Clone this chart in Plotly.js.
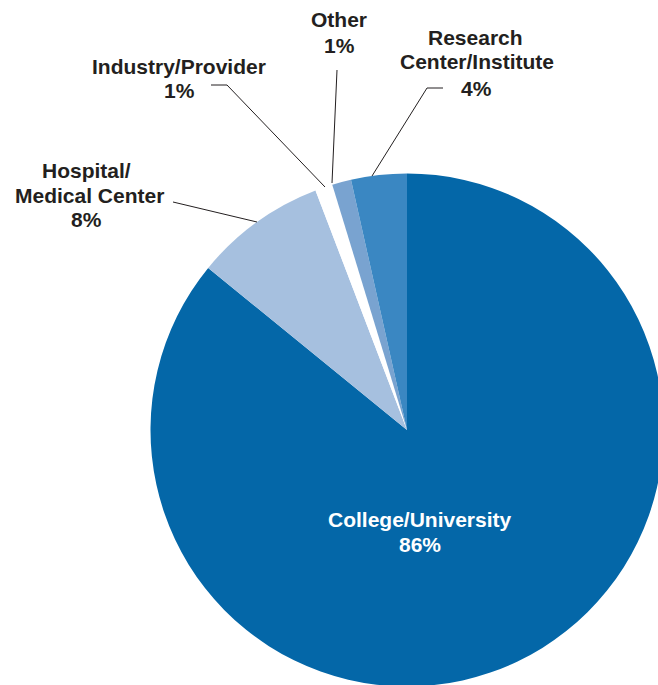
<!DOCTYPE html>
<html>
<head>
<meta charset="utf-8">
<script src="https://cdn.plot.ly/plotly-3.0.1.min.js"></script>
<style>
html,body{margin:0;padding:0;overflow:hidden;background:#fff;}
#chart{width:700px;height:720px;}
</style>
</head>
<body>
<div id="chart"></div>
<script>
// Data
const categories = ["College/University", "Hospital/Medical Center", "Industry/Provider", "Other", "Research Center/Institute"];
const shares = [85.8, 8.3, 1.1, 1.2, 3.5];
const shareLabels = ["86%", "8%", "1%", "1%", "4%"];
const sliceColors = ["#0467a8", "#a6c0df", "#ffffff", "#79a3d0", "#3a87c2"];

const W = 700, H = 720;
const px = x => x / W;
const py = y => 1 - y / H;

// pie placement (pixels): centre (407,430), radius 256.5
const cx = 407, cy = 430, R = 256.5;

const trace = {
  type: "pie",
  values: shares,
  labels: categories,
  sort: false,
  direction: "clockwise",
  rotation: 0,
  textinfo: "none",
  hoverinfo: "label+percent",
  marker: {colors: sliceColors, line: {width: 0}},
  domain: {x: [px(cx - R), px(cx + R)], y: [py(cy + R), py(cy - R)]},
  showlegend: false
};

const dark = "#231f20";
const fontBase = {family: "Liberation Sans, Arial, Helvetica, sans-serif", size: 21, color: dark, weight: "bold"};

// label lines: [text, centre x, baseline y, colour]
const labelLines = [
  ["Other", 339, 27], ["1%".replace("1%", shareLabels[3]), 339, 53],
  ["Research", 475, 45], ["Center/Institute", 477, 69], [shareLabels[4], 477, 96],
  ["Industry/Provider", 179, 74], [shareLabels[2], 179, 98],
  ["Hospital/", 86, 178], ["Medical Center", 90, 203], [shareLabels[1], 86, 227],
  ["College/University", 420, 527, "#ffffff"], [shareLabels[0], 420, 552, "#ffffff"]
];

const annotations = labelLines.map(l => ({
  text: "<b>" + l[0] + "</b>",
  x: px(l[1]), y: py(l[2] - 7.5),
  xref: "paper", yref: "paper",
  xanchor: "center", yanchor: "middle",
  showarrow: false,
  font: Object.assign({}, fontBase, {color: l[3] || dark})
}));

// leader lines (pixel paths)
const leaders = [
  [[173, 202], [257, 222]],
  [[211, 85], [227, 85], [325, 187]],
  [[337, 70], [332, 183]],
  [[443, 88], [427, 88], [372, 176]]
];
const shapes = [];
leaders.forEach(pts => {
  for (let i = 0; i < pts.length - 1; i++) {
    shapes.push({
      type: "line", xref: "paper", yref: "paper",
      x0: px(pts[i][0]), y0: py(pts[i][1]),
      x1: px(pts[i+1][0]), y1: py(pts[i+1][1]),
      line: {color: dark, width: 1}
    });
  }
});

const layout = {
  width: W, height: H,
  margin: {l: 0, r: 0, t: 0, b: 0},
  paper_bgcolor: "#ffffff",
  plot_bgcolor: "#ffffff",
  annotations: annotations,
  shapes: shapes
};

Plotly.newPlot("chart", [trace], layout, {displayModeBar: false, staticPlot: true});
</script>
</body>
</html>
